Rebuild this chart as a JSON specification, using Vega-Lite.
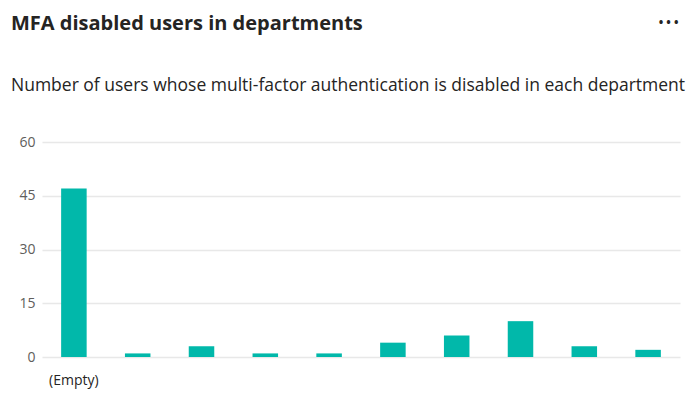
{
  "$schema": "https://vega.github.io/schema/vega-lite/v6.json",
  "width": 638,
  "height": 215,
  "autosize": {"type": "none"},
  "padding": {"left": 42, "top": 142, "right": 18, "bottom": 38},
  "background": "white",
  "config": {"view": {"stroke": null}, "font": "Open Sans"},
  "title": {
    "text": "MFA disabled users in departments",
    "subtitle": "Number of users whose multi-factor authentication is disabled in each department",
    "anchor": "start",
    "dx": -8,
    "font": "Open Sans",
    "fontSize": 20,
    "fontWeight": "bold",
    "color": "#252423",
    "subtitleFont": "Open Sans",
    "subtitleFontSize": 17.5,
    "subtitleColor": "#252423",
    "subtitlePadding": 43,
    "offset": -78
  },
  "data": {
    "values": [
      {"dept": "(Empty)", "users": 47},
      {"dept": "Dept 2", "users": 1},
      {"dept": "Dept 3", "users": 3},
      {"dept": "Dept 4", "users": 1},
      {"dept": "Dept 5", "users": 1},
      {"dept": "Dept 6", "users": 4},
      {"dept": "Dept 7", "users": 6},
      {"dept": "Dept 8", "users": 10},
      {"dept": "Dept 9", "users": 3},
      {"dept": "Dept 10", "users": 2}
    ]
  },
  "layer": [
    {
      "mark": {"type": "bar", "color": "#01B8AA"},
      "encoding": {
        "x": {
          "field": "dept",
          "type": "nominal",
          "sort": null,
          "scale": {"paddingInner": 0.6, "paddingOuter": 0.3},
          "axis": {
            "title": null,
            "labelAngle": 0,
            "labelFont": "Open Sans",
            "labelFontSize": 14,
            "labelColor": "#252423",
            "labelPadding": 16,
            "ticks": false,
            "domain": false,
            "labelExpr": "datum.label == '(Empty)' ? datum.label : ''"
          }
        },
        "y": {
          "field": "users",
          "type": "quantitative",
          "scale": {"domain": [0, 60]},
          "axis": {
            "title": null,
            "values": [0, 15, 30, 45, 60],
            "labelFont": "Open Sans",
            "labelFontSize": 14,
            "labelColor": "#605E5C",
            "labelPadding": 7,
            "ticks": false,
            "domain": false,
            "gridColor": "#E8E8E8",
            "gridWidth": 1.5
          }
        }
      }
    },
    {
      "mark": {"type": "tick", "opacity": 0},
      "encoding": {
        "x": {
          "field": "dept",
          "type": "nominal",
          "sort": null,
          "axis": {
            "orient": "top",
            "title": "• • •",
            "titleFont": "Open Sans",
            "titleFontSize": 12,
            "titleFontWeight": "bold",
            "titleColor": "#252423",
            "titleAnchor": "end",
            "titleAlign": "right",
            "titleBaseline": "alphabetic",
            "titleX": 636,
            "titleY": -116,
            "labels": false,
            "ticks": false,
            "domain": false,
            "grid": false
          }
        }
      }
    }
  ],
  "resolve": {"axis": {"x": "independent"}}
}
